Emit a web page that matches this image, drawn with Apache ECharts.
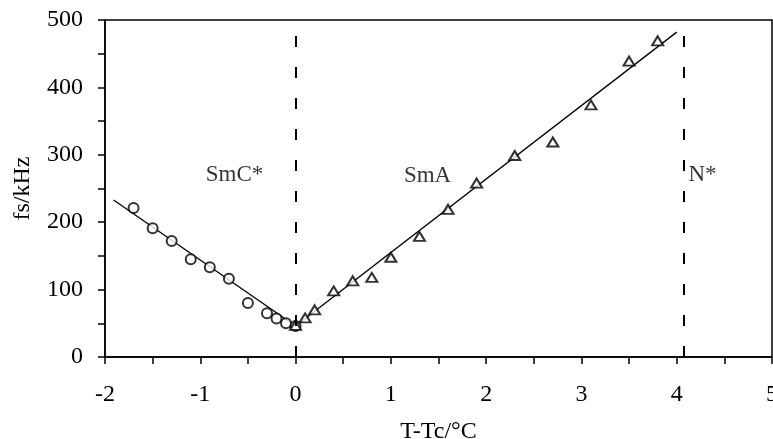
<!DOCTYPE html>
<html>
<head>
<meta charset="utf-8">
<script src="https://cdn.jsdelivr.net/npm/echarts@6/dist/echarts.min.js"></script>
<style>
  html, body { margin: 0; padding: 0; background: #fff; }
  #chart { width: 773px; height: 439px; }
</style>
</head>
<body>
<div id="chart"></div>
<script>
// SmC* phase: relaxation frequency vs temperature offset (circles)
const smcT = [-1.7, -1.5, -1.3, -1.1, -0.9, -0.7, -0.5, -0.3, -0.2, -0.1, 0];
const smcF = [221, 191, 172, 145, 133, 116, 80, 65, 57, 50, 46];

// SmA phase (triangles)
const smaT = [0, 0.1, 0.2, 0.4, 0.6, 0.8, 1.0, 1.3, 1.6, 1.9, 2.3, 2.7, 3.1, 3.5, 3.8];
const smaF = [47, 58, 70, 98, 113, 118, 148, 179, 219, 258, 299, 319, 374, 439, 469];

// Linear fits drawn through each phase
const smcFitT = [-1.91, 0];
const smcFitF = [233, 46];
const smaFitT = [0, 4.0];
const smaFitF = [46, 482];

// Phase transition temperatures (dashed boundaries)
const transitions = [0, 4.07];

// Phase labels
const phaseNames = ['SmC*', 'SmA', 'N*'];
const phaseT = [-0.64, 1.385, 4.27];
const phaseF = [270, 268, 270];

const FONT = 'Liberation Serif';
const zip = (a, b) => a.map((v, i) => [v, b[i]]);

const chart = echarts.init(document.getElementById('chart'), null, { renderer: 'canvas' });

chart.setOption({
  animation: false,
  backgroundColor: '#fff',
  textStyle: { fontFamily: FONT },
  grid: {
    left: 105, right: 1, top: 20, bottom: 82,
    containLabel: false, outerBoundsMode: 'none',
    show: true, borderColor: '#000', borderWidth: 1.5, backgroundColor: 'transparent'
  },
  xAxis: {
    type: 'value', min: -2, max: 5, interval: 0.5,
    name: 'T-Tc/°C', nameLocation: 'middle', nameGap: 63,
    nameTextStyle: { color: '#000', fontFamily: FONT, fontSize: 24 },
    axisLine: { show: true, onZero: false, lineStyle: { color: '#000', width: 1.5 } },
    axisTick: { show: true, inside: false, length: 7, lineStyle: { color: '#000', width: 1.5 } },
    axisLabel: {
      color: '#000', fontFamily: FONT, fontSize: 24, margin: 26,
      formatter: v => (Number.isInteger(v) ? String(v) : '')
    },
    splitLine: { show: false }
  },
  yAxis: {
    type: 'value', min: 0, max: 500, interval: 50,
    name: 'fs/kHz', nameLocation: 'middle', nameGap: 70,
    nameTextStyle: { color: '#000', fontFamily: FONT, fontSize: 24 },
    axisLine: { show: true, onZero: false, lineStyle: { color: '#000', width: 1.5 } },
    axisTick: { show: true, inside: false, length: 7, lineStyle: { color: '#000', width: 1.5 } },
    axisLabel: {
      color: '#000', fontFamily: FONT, fontSize: 24, margin: 22,
      formatter: v => (v % 100 === 0 ? String(v) : '')
    },
    splitLine: { show: false }
  },
  series: [
    {
      name: 'SmC* fit', type: 'line', data: zip(smcFitT, smcFitF),
      symbol: 'none', lineStyle: { color: '#000', width: 1.3 }, z: 2
    },
    {
      name: 'SmA fit', type: 'line', data: zip(smaFitT, smaFitF),
      symbol: 'none', lineStyle: { color: '#000', width: 1.3 }, z: 2,
      markLine: {
        silent: true, symbol: 'none',
        label: { show: false },
        lineStyle: { color: '#000', width: 2, type: [11, 20] },
        data: transitions.map(t => ({ xAxis: t }))
      }
    },
    {
      name: 'SmC*', type: 'scatter', data: zip(smcT, smcF),
      symbol: 'emptyCircle', symbolSize: 10,
      itemStyle: { color: '#000', borderColor: '#000', borderWidth: 1 }, z: 3
    },
    {
      name: 'SmA', type: 'scatter', data: zip(smaT, smaF),
      symbol: 'emptyTriangle', symbolSize: [11, 9],
      itemStyle: { color: '#000', borderColor: '#000', borderWidth: 1.5 }, z: 3
    },
    {
      name: 'phases', type: 'scatter', silent: true,
      data: phaseNames.map((n, i) => ({ name: n, value: [phaseT[i], phaseF[i]] })),
      symbolSize: 0,
      label: {
        show: true, position: 'inside', formatter: p => p.name,
        color: '#000', fontFamily: FONT, fontSize: 23
      }
    }
  ]
});
</script>
</body>
</html>
